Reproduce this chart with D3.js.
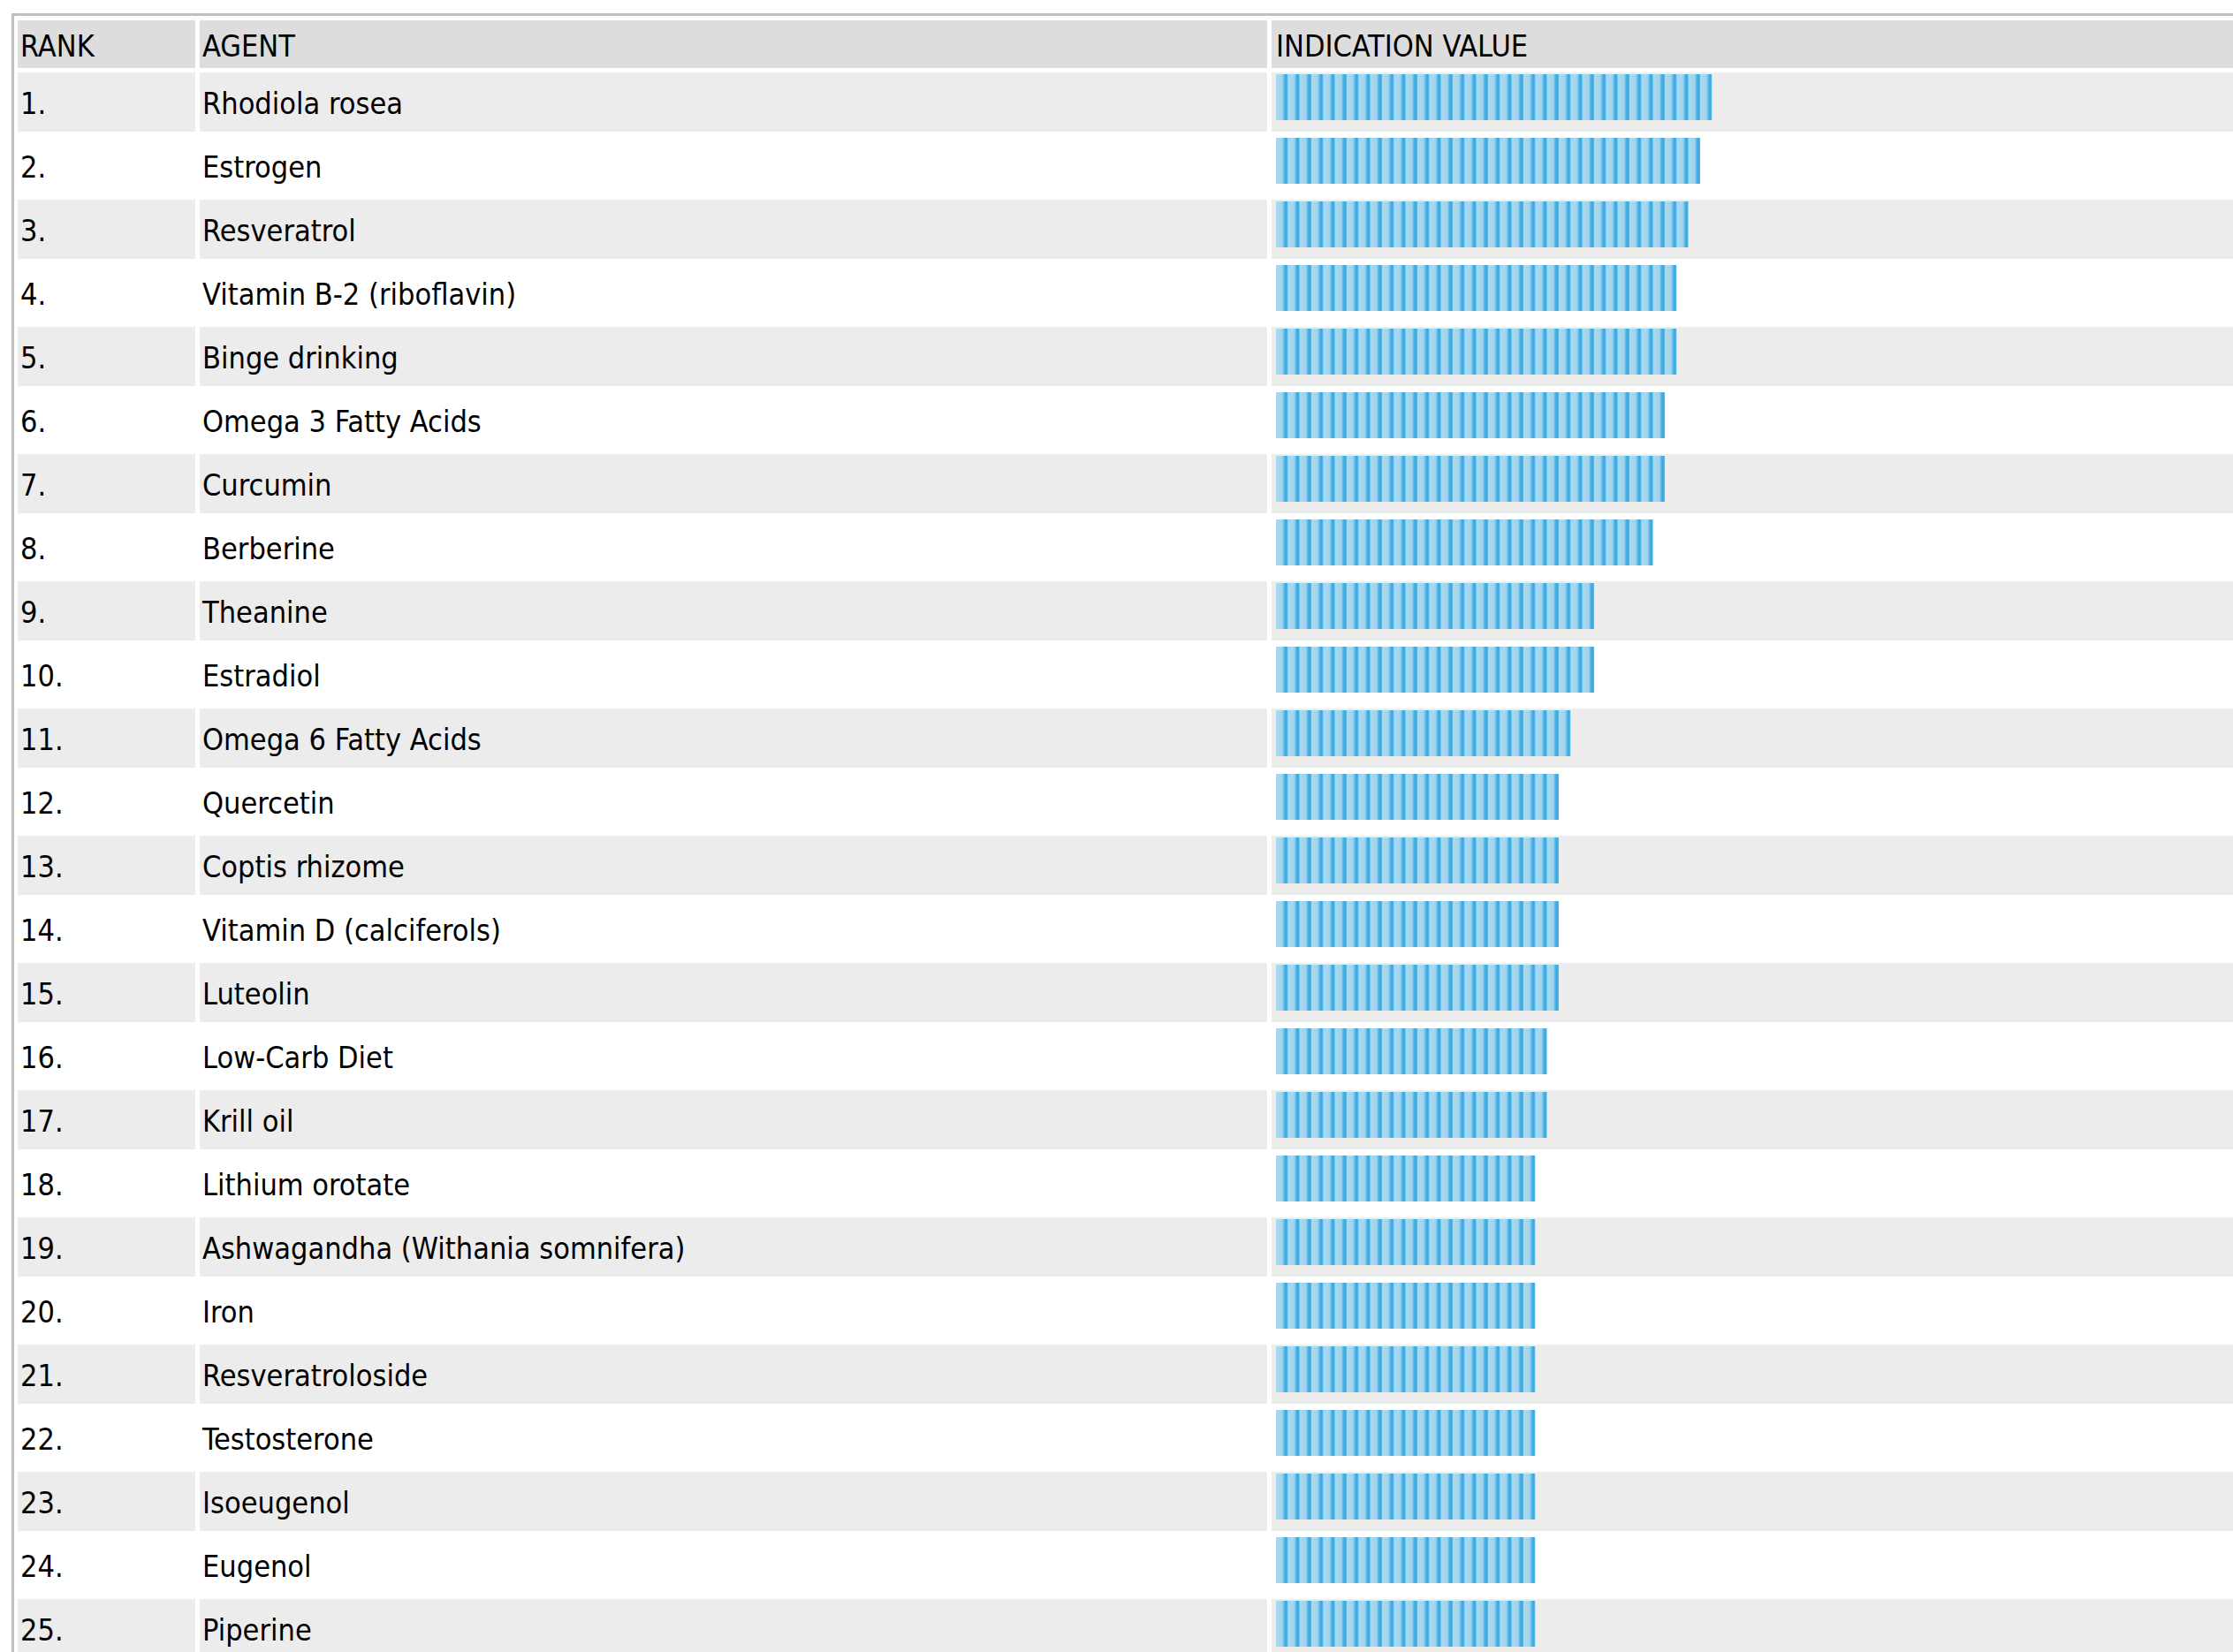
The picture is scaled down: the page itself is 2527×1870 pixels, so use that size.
<!DOCTYPE html>
<html>
<head>
<meta charset="utf-8">
<script src="https://cdn.jsdelivr.net/npm/d3@7"></script>
<style>
  body { margin: 0; background: #fff; }
  svg { display: block; }
  text { font-family: "DejaVu Sans Condensed", "DejaVu Sans", sans-serif; font-size: 34px; fill: #000; }
</style>
</head>
<body>
<svg></svg>
<script>
// table columns (header labels)
let columns = ['RANK', 'AGENT', 'INDICATION VALUE'];

// rows, top to bottom
let ranks = ['1.', '2.', '3.', '4.', '5.', '6.', '7.', '8.', '9.', '10.', '11.', '12.', '13.',
             '14.', '15.', '16.', '17.', '18.', '19.', '20.', '21.', '22.', '23.', '24.', '25.'];

let agents = ['Rhodiola rosea', 'Estrogen', 'Resveratrol', 'Vitamin B-2 (riboflavin)', 'Binge drinking',
              'Omega 3 Fatty Acids', 'Curcumin', 'Berberine', 'Theanine', 'Estradiol',
              'Omega 6 Fatty Acids', 'Quercetin', 'Coptis rhizome', 'Vitamin D (calciferols)', 'Luteolin',
              'Low-Carb Diet', 'Krill oil', 'Lithium orotate', 'Ashwagandha (Withania somnifera)', 'Iron',
              'Resveratroloside', 'Testosterone', 'Isoeugenol', 'Eugenol', 'Piperine'];

// indication value, counted in bar segments
let indication = [37, 36, 35, 34, 34, 33, 33, 32, 27, 27, 25, 24, 24, 24, 24,
                  23, 23, 22, 22, 22, 22, 22, 22, 22, 22];

let width = 2527;
let height = 1870;

// cell edges (the table runs off the right side of the page)
let colLeft = [20, 226, 1439];
let colRight = [221, 1434, 2600];
let textPad = [3, 3, 5];
let headTop = 23;
let headH = 54;
let segW = 40 / 3;   // one stripe of the bar image

let svg = d3.select('svg')
            .attr('width', width)
            .attr('height', height);

// rows: 67px cells with 5px cell spacing
let yScale = d3.scaleBand()
               .domain(d3.range(agents.length))
               .range([82, 82 + 72 * agents.length - 5])
               .paddingInner(5 / 72)
               .paddingOuter(0);

let xScale = d3.scaleLinear()
               .domain([0, 1])
               .range([colLeft[2] + 5, colLeft[2] + 5 + segW]);

// striped fill for the bars
let defs = svg.append('defs');
let grad = defs.append('linearGradient')
               .attr('id', 'stripeGrad')
               .attr('x1', 0).attr('x2', 1).attr('y1', 0).attr('y2', 0);
[['0%', '#a9d8ee'], ['50%', '#a3d4ec'], ['60%', '#8ccbeb'], ['70%', '#52b5e5'],
 ['82%', '#37a8e0'], ['94%', '#3daee6'], ['100%', '#7cc7ec']].forEach(s => {
  grad.append('stop').attr('offset', s[0]).attr('stop-color', s[1]);
});
let pat = defs.append('pattern')
              .attr('id', 'stripes')
              .attr('patternUnits', 'userSpaceOnUse')
              .attr('x', xScale(0))
              .attr('y', 0)
              .attr('width', segW)
              .attr('height', height);
pat.append('rect')
   .attr('width', segW)
   .attr('height', height)
   .attr('fill', 'url(#stripeGrad)');

// outer border (top + left visible)
svg.append('rect')
   .attr('x', 13).attr('y', 15)
   .attr('width', width).attr('height', 3)
   .attr('fill', '#c0c0c0');
svg.append('rect')
   .attr('x', 13).attr('y', 15)
   .attr('width', 3).attr('height', height)
   .attr('fill', '#c0c0c0');

// header cells
let head = svg.append('g').attr('class', 'header');
head.selectAll('rect')
    .data(columns)
    .enter()
    .append('rect')
    .attr('x', (d, i) => colLeft[i])
    .attr('y', headTop)
    .attr('width', (d, i) => colRight[i] - colLeft[i])
    .attr('height', headH)
    .attr('fill', '#dddddd');
head.selectAll('text')
    .data(columns)
    .enter()
    .append('text')
    .attr('x', (d, i) => colLeft[i] + textPad[i])
    .attr('y', headTop + headH / 2)
    .attr('dy', '0.4em')
    .text(d => d);

// body rows
let rows = svg.selectAll('g.row')
              .data(agents)
              .enter()
              .append('g')
              .attr('class', 'row')
              .attr('transform', (d, i) => 'translate(0,' + yScale(i) + ')');

rows.selectAll('rect.cell')
    .data((d, i) => columns.map(() => i))
    .enter()
    .append('rect')
    .attr('class', 'cell')
    .attr('x', (d, j) => colLeft[j])
    .attr('width', (d, j) => colRight[j] - colLeft[j])
    .attr('height', yScale.bandwidth())
    .attr('fill', d => d % 2 === 0 ? '#ececec' : '#ffffff');

rows.append('text')
    .attr('x', colLeft[0] + textPad[0])
    .attr('y', yScale.bandwidth() / 2)
    .attr('dy', '0.4em')
    .text((d, i) => ranks[i]);

rows.append('text')
    .attr('x', colLeft[1] + textPad[1])
    .attr('y', yScale.bandwidth() / 2)
    .attr('dy', '0.4em')
    .text(d => d);

rows.append('rect')
    .attr('class', 'bar')
    .attr('x', xScale(0))
    .attr('y', 2)
    .attr('width', (d, i) => xScale(indication[i]) - xScale(0))
    .attr('height', 52)
    .attr('fill', 'url(#stripes)');
</script>
</body>
</html>
